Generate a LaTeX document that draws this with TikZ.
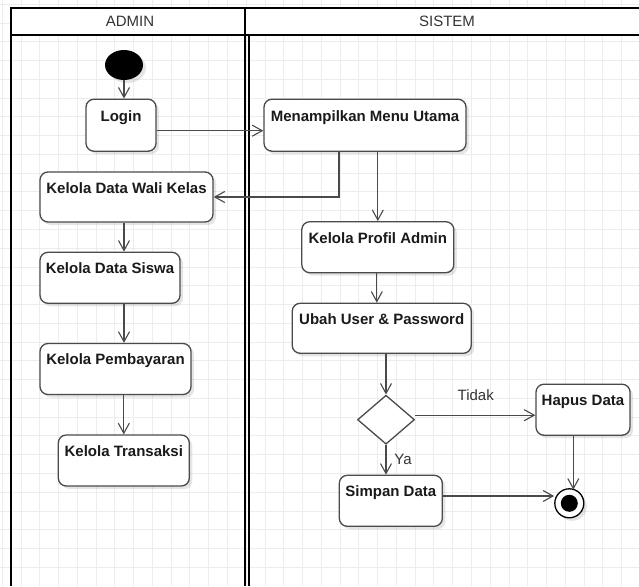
\documentclass[tikz,border=0pt]{standalone}
\usepackage{fontspec}
\setmainfont{Liberation Sans}
\usetikzlibrary{arrows.meta,shapes.geometric,shadows}
\definecolor{linegray}{HTML}{4A4A4A}
\definecolor{gridgray}{HTML}{EDEDED}
\definecolor{textdark}{HTML}{1A1A1A}
\definecolor{labelgray}{HTML}{333333}
\tikzset{
  gridline/.style={draw=gridgray, line width=0.9pt},
  laneline/.style={draw=black, line width=1.5pt},
  actbox/.style={draw=linegray, line width=1.3pt, rounded corners=8pt, fill=white, inner sep=0pt,
    drop shadow={shadow xshift=3pt, shadow yshift=-3pt, fill=black, opacity=0.1}},
  acttext/.style={anchor=base, inner sep=0pt, text=textdark, font=\fontsize{15}{18}\selectfont\bfseries},
  lanetext/.style={anchor=base, inner sep=0pt, text=labelgray, font=\fontsize{15}{18}\selectfont},
  flow/.style={draw=linegray, line width=1.3pt, -{Straight Barb[length=10pt,width=11pt,line width=1.1pt]}},
}
\begin{document}
\begin{tikzpicture}[x=1pt,y=-1pt]
\useasboundingbox (0,0) rectangle (639,586);
\fill[white] (0,0) rectangle (639,586);
% grid
\foreach \k in {-1,...,33} \draw[gridline] ({21+18.77*\k},0) -- ({21+18.77*\k},586);
\foreach \k in {0,...,30} \draw[gridline] (0,{4.2+18.77*\k}) -- (639,{4.2+18.77*\k});
% swimlanes
\fill[white] (11,8) rectangle (639,35);
\draw[laneline] (639,8) -- (11,8) -- (11,586);
\draw[laneline] (11,35) -- (639,35);
\draw[laneline] (245,8) -- (245,586);
\draw[laneline] (249,35) -- (249,586);
\node[lanetext] (hadmin) at (130,26.7) {ADMIN};
\node[lanetext] (hsistem) at (447,26.7) {SISTEM};
% start / end
\node[ellipse, fill=black, minimum width=38pt, minimum height=30pt, inner sep=0pt,
  drop shadow={shadow xshift=3pt, shadow yshift=-3pt, fill=black, opacity=0.1}] (start) at (124,65) {};
\node[circle, draw=black, line width=1.3pt, fill=white, minimum size=29pt, inner sep=0pt,
  drop shadow={shadow xshift=3pt, shadow yshift=-3pt, fill=black, opacity=0.1}] (end) at (569.3,503.3) {};
\node[circle, fill=black, minimum size=17pt, inner sep=0pt] (endin) at (end.center) {};
% activity boxes
\node[actbox, minimum width=70pt, minimum height=52pt] (login) at (121,125.2) {};
\node[actbox, minimum width=202pt, minimum height=52pt] (menu) at (365,125.2) {};
\node[actbox, minimum width=173pt, minimum height=50pt] (wali) at (126.5,197) {};
\node[actbox, minimum width=140pt, minimum height=51pt] (siswa) at (110,277.8) {};
\node[actbox, minimum width=151pt, minimum height=51pt] (bayar) at (115.5,369) {};
\node[actbox, minimum width=131pt, minimum height=51pt] (trans) at (123.8,460.5) {};
\node[actbox, minimum width=152pt, minimum height=51pt] (profil) at (377.8,247.2) {};
\node[actbox, minimum width=179pt, minimum height=50pt] (ubah) at (381.7,328.3) {};
\node[actbox, minimum width=94pt, minimum height=51pt] (hapus) at (583,409.7) {};
\node[actbox, minimum width=103pt, minimum height=51pt] (simpan) at (390.8,500.8) {};
\node[diamond, draw=linegray, line width=1.3pt, fill=white, minimum width=57pt, minimum height=49pt, inner sep=0pt] (dec) at (386,419.7) {};
% texts
\node[acttext] (tlogin) at ([yshift=-22.5pt]login.north) {Login};
\node[acttext] (tmenu) at ([yshift=-22.5pt]menu.north) {Menampilkan Menu Utama};
\node[acttext] (twali) at ([yshift=-22pt]wali.north) {Kelola Data Wali Kelas};
\node[acttext] (tsiswa) at ([yshift=-22pt]siswa.north) {Kelola Data Siswa};
\node[acttext] (tbayar) at ([yshift=-22pt]bayar.north) {Kelola Pembayaran};
\node[acttext] (ttrans) at ([yshift=-22pt]trans.north) {Kelola Transaksi};
\node[acttext] (tprofil) at ([yshift=-22pt]profil.north) {Kelola Profil Admin};
\node[acttext] (tubah) at ([yshift=-22pt]ubah.north) {Ubah User \& Password};
\node[acttext] (thapus) at ([yshift=-22pt]hapus.north) {Hapus Data};
\node[acttext] (tsimpan) at ([yshift=-22pt]simpan.north) {Simpan Data};
% connectors
\draw[flow] (start.south) -- (start.south |- login.north);
\draw[flow] ([yshift=-5.5pt]login.east) -- ([yshift=-5.5pt]login.east -| menu.west);
\draw[flow] ([xshift=-26pt]menu.south) |- (wali.east);
\draw[flow] (profil.north |- menu.south) -- (profil.north);
\draw[flow] ([xshift=-2.5pt]wali.south) -- ([xshift=-2.5pt]wali.south |- siswa.north);
\draw[flow] ([xshift=14pt]siswa.south) -- ([xshift=14pt]siswa.south |- bayar.north);
\draw[flow] (trans.north |- bayar.south) -- (trans.north);
\draw[flow] ([xshift=-1pt]profil.south) -- ([xshift=-1pt]profil.south |- ubah.north);
\draw[flow] (dec.north |- ubah.south) -- (dec.north);
\draw[flow] ([yshift=4.5pt]dec.east) -- ([yshift=4.5pt]dec.east -| hapus.west);
\draw[flow] (dec.south) -- (dec.south |- simpan.north);
\draw[flow] ([xshift=-9.7pt]hapus.south) -- ([xshift=4pt,yshift=-1.5pt]end.north);
\draw[flow] ([yshift=4.8pt]simpan.east) -- ([yshift=4.8pt]simpan.east -| end.west);
\node[lanetext] (ltidak) at (475.7,400.7) {Tidak};
\node[lanetext] (lya) at (403,464.3) {Ya};
\end{tikzpicture}
\end{document}
